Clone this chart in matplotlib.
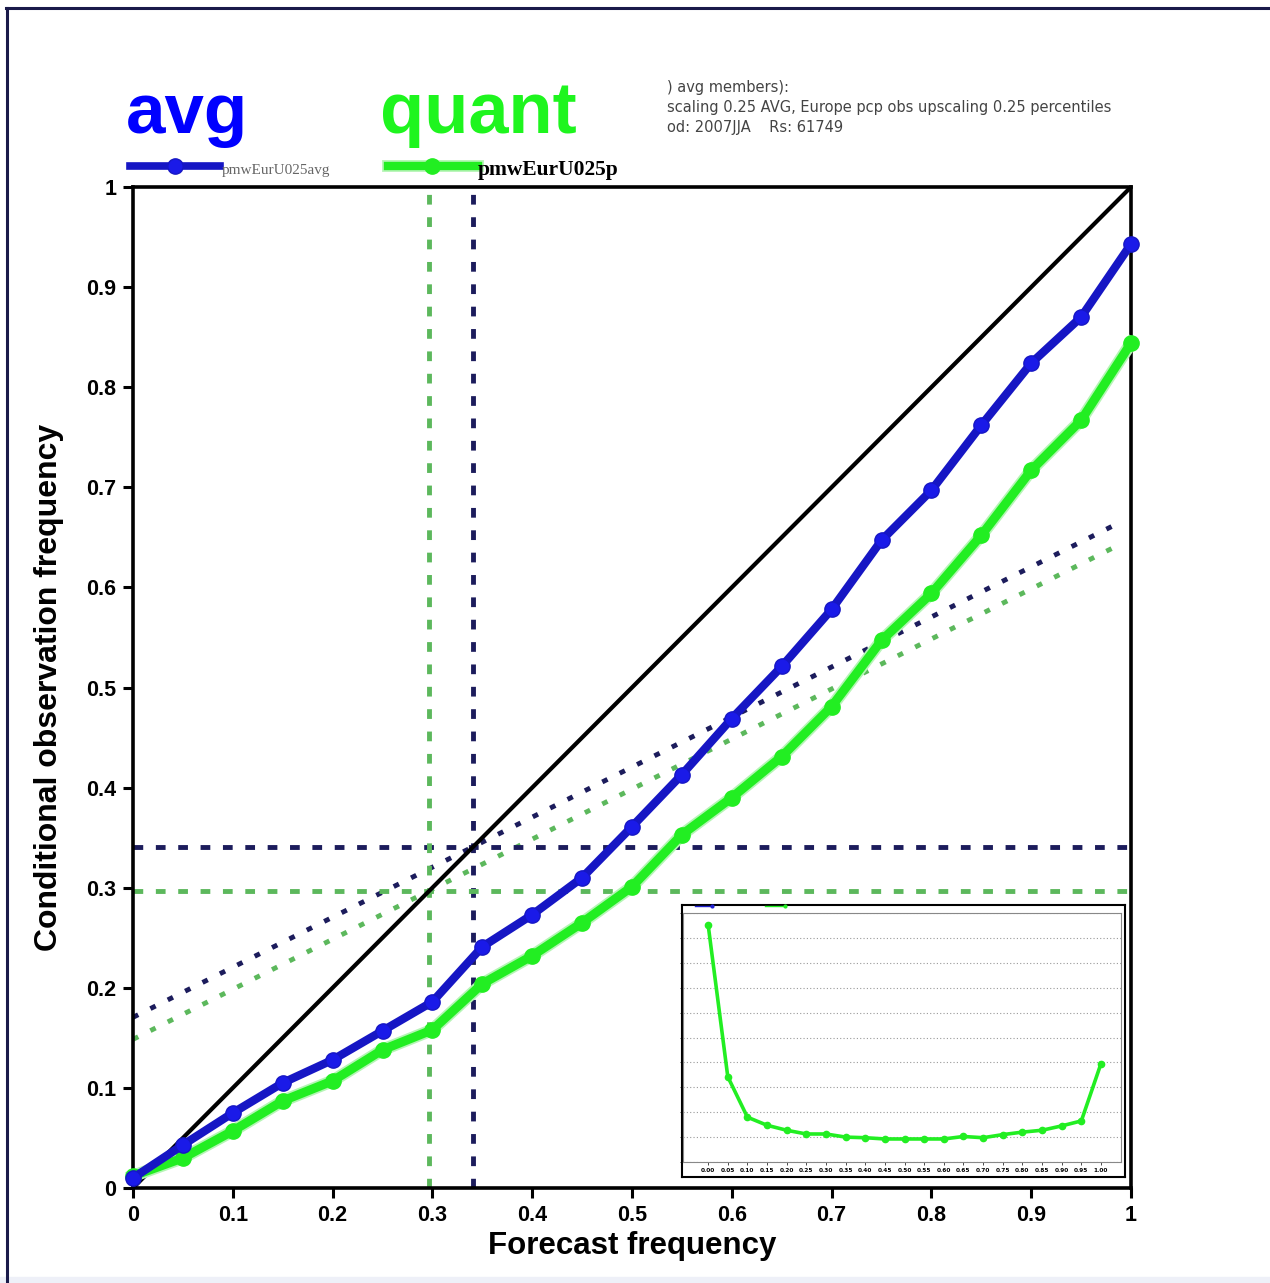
import numpy as np
import matplotlib
matplotlib.use("Agg")
import matplotlib.pyplot as plt
from matplotlib.lines import Line2D
from matplotlib.patches import Rectangle
import matplotlib.patheffects as pe

W, H = 1270, 1283

# reliability data (forecast prob bins)
fc_prob = [0.0, 0.05, 0.10, 0.15, 0.20, 0.25, 0.30, 0.35, 0.40, 0.45, 0.50,
           0.55, 0.60, 0.65, 0.70, 0.75, 0.80, 0.85, 0.90, 0.95, 1.0]
obs_avg = [0.010, 0.043, 0.075, 0.105, 0.128, 0.157, 0.186, 0.241, 0.273, 0.310, 0.361,
           0.413, 0.469, 0.521, 0.578, 0.647, 0.697, 0.762, 0.824, 0.870, 0.943]
obs_quant = [0.012, 0.030, 0.057, 0.087, 0.107, 0.138, 0.158, 0.204, 0.232, 0.265, 0.301,
             0.353, 0.390, 0.431, 0.481, 0.547, 0.594, 0.652, 0.717, 0.767, 0.844]
clim_avg = 0.341
clim_quant = 0.297

# inset: sharpness histogram (quant)
hist_quant = [38.1, 13.7, 7.2, 5.9, 5.1, 4.5, 4.5, 4.0, 3.9, 3.7, 3.7,
              3.7, 3.7, 4.1, 3.9, 4.4, 4.8, 5.1, 5.8, 6.6, 15.8]

tick_vals = [0, 0.1, 0.2, 0.3, 0.4, 0.5, 0.6, 0.7, 0.8, 0.9, 1]
tick_labels = ["0", "0.1", "0.2", "0.3", "0.4", "0.5", "0.6", "0.7", "0.8", "0.9", "1"]

header_lines = [") avg members):",
                "scaling 0.25 AVG, Europe pcp obs upscaling 0.25 percentiles",
                "od: 2007JJA    Rs: 61749"]

BLUE = "#1616c4"
BLUE_M = "#1a1ae8"
GREEN = "#22ee22"
GREEN_HALO = "#b5f5b5"
NAVY = "#1c1c5c"
DGREEN = "#5cb85c"

sans = ["Liberation Sans", "DejaVu Sans"]
serif = ["Liberation Serif", "DejaVu Serif"]


def fx(x):
    return x / W


def fy(y):
    return 1 - y / H


fig = plt.figure(figsize=(W / 100, H / 100), dpi=100)

# main reliability axes
ax = fig.add_axes([fx(133), fy(1188), fx(1131) - fx(133), fy(187) - fy(1188)])
ax.set_xlim(0, 1)
ax.set_ylim(0, 1)

# no-skill lines
xs = np.array([0.0, 0.99])
ax.plot(xs, (xs + clim_avg) / 2, color=NAVY, lw=3.5, ls=(0, (1.2, 2.8)), zorder=2)
ax.plot(xs, (xs + clim_quant) / 2, color=DGREEN, lw=3.5, ls=(0, (1.2, 2.8)), zorder=2)

# climatology
ax.axhline(clim_avg, color=NAVY, lw=3.5, ls=(0, (2, 2.6)), zorder=2)
ax.axvline(clim_avg, color=NAVY, lw=3.5, ls=(0, (2, 2.6)), zorder=2)
ax.axhline(clim_quant, color=DGREEN, lw=3.5, ls=(0, (2, 2.6)), zorder=2)
ax.axvline(clim_quant, color=DGREEN, lw=3.5, ls=(0, (2, 2.6)), zorder=2)

ax.plot([0, 1], [0, 1], color="black", lw=3, zorder=3)

ax.plot(fc_prob, obs_quant, color=GREEN, lw=6.5, zorder=4, clip_on=False,
        path_effects=[pe.Stroke(linewidth=9, foreground=GREEN_HALO), pe.Normal()])
ax.plot(fc_prob, obs_quant, ls="none", marker="o", ms=11, mfc=GREEN, mec=GREEN,
        zorder=4, clip_on=False)
ax.plot(fc_prob, obs_avg, color=BLUE, lw=6, marker="o", ms=11,
        mfc=BLUE_M, mec=BLUE, zorder=5, clip_on=False)

ax.set_xticks(tick_vals, tick_labels)
ax.set_yticks(tick_vals, tick_labels)
for lbl in ax.get_xticklabels() + ax.get_yticklabels():
    lbl.set_family(sans)
    lbl.set_fontweight("bold")
    lbl.set_fontsize(15.5)
ax.tick_params(direction="out", length=7, width=2.2, pad=5)
for s in ax.spines.values():
    s.set_linewidth(2.6)

ax.set_xlabel("Forecast frequency", family=sans, fontweight="bold", fontsize=22.5, labelpad=4)
ax.set_ylabel("Conditional observation frequency", family=sans, fontweight="bold",
              fontsize=23, labelpad=16)

# inset (sharpness)
outer = fig.add_axes([fx(682), fy(1177), fx(1125) - fx(682), fy(905) - fy(1177)])
outer.set_xticks([])
outer.set_yticks([])
for s in outer.spines.values():
    s.set_linewidth(1.5)
    s.set_color("black")
outer.set_zorder(6)

ins = fig.add_axes([fx(683), fy(1162), fx(1121) - fx(683), fy(913) - fy(1162)])
ins.set_zorder(7)
ins.patch.set_alpha(0)
ins.plot(fc_prob, hist_quant, color=GREEN, lw=2.6, marker="o", ms=4.5, mec=GREEN)
ins.set_xlim(-0.064, 1.051)
ins.set_ylim(0, 40)
ins.set_xticks(fc_prob, ["%.2f" % v for v in fc_prob])
ins.set_yticks(np.arange(0, 41, 4), [""] * 11)
ins.grid(axis="y", ls=(0, (1, 2)), color="#999999", lw=0.8)
ins.tick_params(labelsize=4.2, length=2, width=0.5, pad=2)
for lbl in ins.get_xticklabels():
    lbl.set_fontweight("bold")
for s in ins.spines.values():
    s.set_color("#888888")
    s.set_linewidth(0.8)

# tiny inset legend, cut by the frame as in the source
fig.add_artist(Line2D([fx(695), fx(712)], [fy(906), fy(906)], transform=fig.transFigure,
                      color="#2020d0", lw=1, marker="o", ms=2, markevery=[1], zorder=8))
fig.add_artist(Line2D([fx(765), fx(785)], [fy(906), fy(906)], transform=fig.transFigure,
                      color=GREEN, lw=1, marker="o", ms=2, markevery=[1], zorder=8))

# header labels
fig.text(fx(126), fy(133), "avg", color="#0000ff", fontsize=51, fontweight="bold", family=sans)
fig.text(fx(380), fy(133), "quant", color="#1ef51e", fontsize=52, fontweight="bold", family=sans)

for i, line in enumerate(header_lines):
    fig.text(fx(667), fy(92 + 20 * i), line, color="#444444", fontsize=10.5,
             family="DejaVu Sans")

# series legend
fig.add_artist(Line2D([fx(130), fx(220)], [fy(166), fy(166)], transform=fig.transFigure,
                      color=BLUE, lw=5.5))
fig.add_artist(Line2D([fx(175)], [fy(166)], transform=fig.transFigure, marker="o",
                      ms=11, mfc=BLUE_M, mec=BLUE))
fig.text(fx(222), fy(174), "pmwEurU025avg", color="#666666", fontsize=11, family=serif)

fig.add_artist(Line2D([fx(388), fx(478)], [fy(166), fy(166)], transform=fig.transFigure,
                      color=GREEN, lw=6,
                      path_effects=[pe.Stroke(linewidth=8.5, foreground=GREEN_HALO), pe.Normal()]))
fig.add_artist(Line2D([fx(432)], [fy(166)], transform=fig.transFigure, marker="o",
                      ms=11, mfc=GREEN, mec=GREEN))
fig.text(fx(478), fy(175), "pmwEurU025p", color="black", fontsize=15.5, family=serif,
         fontweight="bold")

# screenshot frame
fig.add_artist(Line2D([fx(6), fx(1270)], [fy(8), fy(8)], transform=fig.transFigure,
                      color="#1a1a4a", lw=2.2))
fig.add_artist(Line2D([fx(7), fx(7)], [fy(8), fy(1283)], transform=fig.transFigure,
                      color="#1a1a4a", lw=2.2))
fig.add_artist(Rectangle((0, 0), 1, fy(1277), transform=fig.transFigure,
                         color="#eef0f8", zorder=0))

fig.savefig("out.png", dpi=100)
